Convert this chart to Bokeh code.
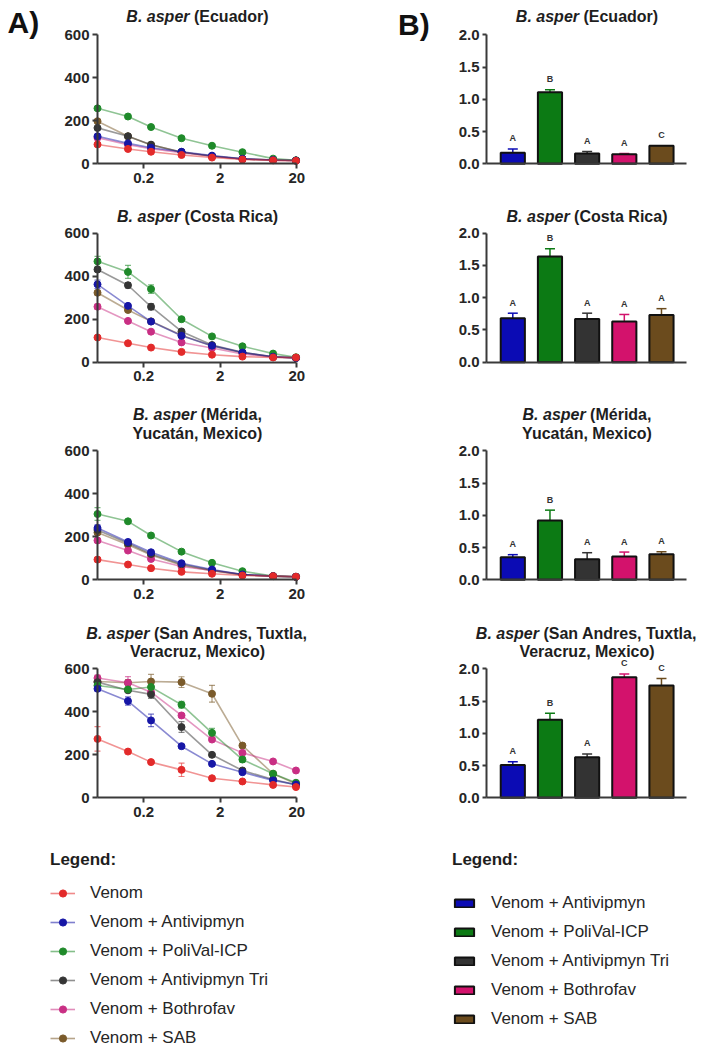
import math
from bokeh.plotting import figure
from bokeh.layouts import column, row
from bokeh.models import (Range1d, FixedTicker, Label, Whisker, TeeHead, ColumnDataSource,
                          Legend, LegendItem, CustomJSTickFormatter)
from bokeh.core.properties import value
from bokeh.embed import file_html
from bokeh.resources import INLINE

FONT = "Liberation Sans"
TXT = "#1e1e1e"
AX = "#3a3a3a"
NAN = float("nan")

# ---------------- data ----------------
doses = [0.05, 0.125, 0.25, 0.625, 1.5625, 3.9, 9.8, 19.5]
x_ticks = [0.2, 2, 20]
y_ticks_line = [0, 200, 400, 600]
y_ticks_bar = [0, 0.5, 1.0, 1.5, 2.0]
series_names = ["Venom", "Venom + Antivipmyn", "Venom + PoliVal-ICP",
                "Venom + Antivipmyn Tri", "Venom + Bothrofav", "Venom + SAB"]
line_colors = ["#e32a2a", "#1616a6", "#1f8a2a", "#353535", "#c92f84", "#7a5a2a"]

ecu_venom = [90, 69, 56, 41, 29, 20, 16, 14]
ecu_antivipmyn = [128, 95, 75, 56, 38, 23, 18, 15]
ecu_polival = [258, 220, 171, 119, 84, 54, 24, 16]
ecu_tri = [167, 128, 89, 54, 36, 23, 18, 16]
ecu_bothrofav = [121, 89, 70, 52, 35, 22, 17, 14]
ecu_sab = [198, 128, 88, 55, 35, 22, 18, 15]

cr_venom = [115, 88, 68, 48, 35, 26, 22, 22]
cr_antivipmyn = [362, 262, 189, 123, 77, 45, 25, 20]
cr_polival = [469, 420, 340, 200, 120, 74, 40, 23]
cr_tri = [431, 358, 258, 143, 80, 46, 25, 20]
cr_bothrofav = [258, 192, 142, 92, 66, 38, 24, 20]
cr_sab = [323, 243, 190, 125, 75, 44, 24, 20]
cr_err_venom = [8, 0, 0, 0, 0, 0, 0, 0]
cr_err_antivipmyn = [20, 8, 6, 0, 0, 0, 0, 0]
cr_err_polival = [23, 30, 20, 8, 0, 0, 0, 0]
cr_err_tri = [8, 12, 15, 8, 0, 0, 0, 0]
cr_err_bothrofav = [12, 6, 6, 0, 0, 0, 0, 0]
cr_err_sab = [10, 8, 0, 0, 0, 0, 0, 0]

mer_venom = [94, 71, 54, 37, 28, 20, 17, 14]
mer_antivipmyn = [241, 176, 128, 77, 48, 25, 17, 14]
mer_polival = [306, 272, 206, 131, 79, 40, 17, 14]
mer_tri = [232, 170, 120, 72, 45, 24, 17, 14]
mer_bothrofav = [183, 136, 97, 62, 43, 25, 17, 14]
mer_sab = [220, 163, 115, 68, 42, 23, 17, 14]
mer_err_venom = [10, 0, 0, 0, 0, 0, 0, 0]
mer_err_antivipmyn = [15, 10, 0, 0, 0, 0, 0, 0]
mer_err_polival = [30, 0, 0, 0, 0, 0, 0, 0]
mer_err_tri = [10, 0, 0, 0, 0, 0, 0, 0]
mer_err_bothrofav = [10, 0, 0, 0, 0, 0, 0, 0]
mer_err_sab = [10, 0, 0, 0, 0, 0, 0, 0]

sa_venom = [274, 215, 166, 130, 91, 76, 60, 50]
sa_antivipmyn = [507, 450, 360, 240, 158, 119, 81, 62]
sa_polival = [522, 504, 515, 433, 302, 178, 112, 70]
sa_tri = [538, 500, 481, 329, 200, 127, 85, 60]
sa_bothrofav = [557, 535, 491, 383, 271, 209, 169, 127]
sa_sab = [541, 535, 541, 538, 484, 243, 112, 65]
sa_err_venom = [57, 8, 6, 31, 6, 5, 5, 5]
sa_err_antivipmyn = [10, 19, 29, 8, 5, 5, 5, 4]
sa_err_polival = [10, 10, 15, 16, 21, 12, 8, 5]
sa_err_tri = [10, 10, 19, 25, 6, 5, 5, 5]
sa_err_bothrofav = [14, 29, 10, 8, 6, 6, 6, 5]
sa_err_sab = [12, 15, 33, 25, 39, 8, 5, 5]

bar_names = series_names[1:]
bar_colors = ["#0b0bb4", "#0c7a14", "#333333", "#d3126c", "#6b4b1d"]
bar_idx = [0, 1, 2, 3, 4]

ecu_bar = [0.17, 1.11, 0.16, 0.15, 0.28]
ecu_bar_err = [0.06, 0.04, 0.03, 0.01, 0.0]
ecu_letters = ["A", "B", "A", "A", "C"]
cr_bar = [0.68, 1.64, 0.67, 0.63, 0.73]
cr_bar_err = [0.08, 0.12, 0.09, 0.11, 0.10]
cr_letters = ["A", "B", "A", "A", "A"]
mer_bar = [0.35, 0.92, 0.32, 0.36, 0.395]
mer_bar_err = [0.04, 0.16, 0.10, 0.07, 0.04]
mer_letters = ["A", "B", "A", "A", "A"]
sa_bar = [0.51, 1.21, 0.63, 1.87, 1.74]
sa_bar_err = [0.05, 0.10, 0.05, 0.05, 0.11]
sa_letters = ["A", "B", "A", "C", "C"]

titles = [
    ["B. asper (Ecuador)"],
    ["B. asper (Costa Rica)"],
    ["B. asper (Mérida,", "Yucatán, Mexico)"],
    ["B. asper (San Andres, Tuxtla,", "Veracruz, Mexico)"],
]

regions = [
    dict(vals=[ecu_venom, ecu_antivipmyn, ecu_polival, ecu_tri, ecu_bothrofav, ecu_sab], errs=None,
         bar=ecu_bar, bar_err=ecu_bar_err, letters=ecu_letters),
    dict(vals=[cr_venom, cr_antivipmyn, cr_polival, cr_tri, cr_bothrofav, cr_sab],
         errs=[cr_err_venom, cr_err_antivipmyn, cr_err_polival, cr_err_tri, cr_err_bothrofav, cr_err_sab],
         bar=cr_bar, bar_err=cr_bar_err, letters=cr_letters),
    dict(vals=[mer_venom, mer_antivipmyn, mer_polival, mer_tri, mer_bothrofav, mer_sab],
         errs=[mer_err_venom, mer_err_antivipmyn, mer_err_polival, mer_err_tri, mer_err_bothrofav, mer_err_sab],
         bar=mer_bar, bar_err=mer_bar_err, letters=mer_letters),
    dict(vals=[sa_venom, sa_antivipmyn, sa_polival, sa_tri, sa_bothrofav, sa_sab],
         errs=[sa_err_venom, sa_err_antivipmyn, sa_err_polival, sa_err_tri, sa_err_bothrofav, sa_err_sab],
         bar=sa_bar, bar_err=sa_bar_err, letters=sa_letters),
]

# ---------------- page geometry (pixels) ----------------
LEFT_W, RIGHT_W = 351, 349
fig_spans = [(0, 190), (190, 395), (395, 612), (612, 830)]
zero_y = [163.3, 361.7, 579.3, 797.3]      # page y of value 0
LPX = 129.0 / 600.0                        # px per unit, line plots
BPX = 129.0 / 2.0                          # px per unit, bar plots
L_AX_X, L_DEC = 97.0, 76.6                 # page x of dose 0.05 ; px per decade
B_C0, B_STEP = 512.3 - LEFT_W, 37.17       # first bar centre (fig px) ; px per bar
B_AX = 135.0                               # bar y-axis, fig px
title_pos = [[16], [216], [414, 433], [632.5, 651]]
L_TCX, B_TCX = 197.0, 586.5 - LEFT_W
TFS = 16
TICK_FS = "15px"


def xlog(px):
    return doses[0] * 10 ** ((px - L_AX_X) / L_DEC)


def xbar(px):
    return (px - B_C0) / B_STEP


# Arial/Helvetica bold advance widths (per 1000 em)
W = {' ': 278, '(': 333, ')': 333, ',': 278, '.': 278, 'A': 722, 'B': 722, 'C': 722,
     'E': 667, 'M': 833, 'R': 722, 'S': 667, 'T': 611, 'V': 667, 'Y': 667, 'a': 556,
     'c': 556, 'd': 611, 'e': 556, 'i': 278, 'l': 278, 'n': 611, 'o': 611, 'p': 611,
     'r': 389, 's': 556, 't': 333, 'u': 611, 'x': 556, 'z': 500, 'á': 556, 'é': 556}


def tw(s, fs):
    return sum(W.get(ch, 556) for ch in s) * fs / 1000.0


def label(p, x, y, text, size, style, align="left", color=TXT):
    p.add_layout(Label(x=x, y=y, x_units="screen", y_units="screen", text=text,
                       text_font=FONT, text_font_style=style, text_font_size=f"{size}px",
                       text_align=align, text_baseline="middle", text_color=color))


def add_title(p, k, cx):
    lines = titles[k]
    fb = fig_spans[k][1]
    ys = [fb - t for t in title_pos[k]]
    first = lines[0]
    ital = "B. asper"
    rest = first[len(ital) + 1:]
    x0 = cx - tw(first, TFS) / 2.0
    label(p, x0, ys[0], ital, TFS, "bold italic")
    label(p, x0 + tw(ital + " ", TFS), ys[0], rest, TFS, "bold")
    for ln, y in zip(lines[1:], ys[1:]):
        label(p, cx, y, ln, TFS, "bold", align="center")


def style_axes(p):
    p.grid.visible = False
    p.outline_line_color = None
    p.axis.axis_line_color = AX
    p.axis.axis_line_width = 2
    p.axis.major_tick_line_color = AX
    p.axis.major_tick_line_width = 2
    p.axis.major_tick_in = 0
    p.axis.minor_tick_line_color = None
    p.axis.major_label_text_font = FONT
    p.axis.major_label_text_font_style = "bold"
    p.axis.major_label_text_font_size = TICK_FS
    p.axis.major_label_text_color = "#262626"


def line_fig(k):
    reg = regions[k]
    top, bot = fig_spans[k]
    p = figure(width=LEFT_W, height=bot - top, x_axis_type="log",
               x_range=Range1d(xlog(0), xlog(LEFT_W)),
               y_range=Range1d((zero_y[k] - bot) / LPX, (zero_y[k] - top) / LPX),
               output_backend="svg", toolbar_location=None, min_border=0)
    style_axes(p)
    p.yaxis.fixed_location = doses[0]
    p.yaxis.bounds = (0, 600)
    p.yaxis.ticker = FixedTicker(ticks=y_ticks_line)
    p.yaxis.major_tick_out = 5
    p.yaxis.major_label_standoff = 3
    p.xaxis.fixed_location = 0
    p.xaxis.bounds = (doses[0], 20)
    p.xaxis.ticker = FixedTicker(ticks=x_ticks)
    p.xaxis.formatter = CustomJSTickFormatter(code="return String(tick)")
    p.xaxis.major_tick_out = 5
    p.xaxis.major_label_standoff = 4
    for i in [5, 4, 3, 2, 1, 0]:
        c = line_colors[i]
        vals = reg["vals"][i]
        if reg["errs"] is not None:
            e = reg["errs"][i]
            xs = [d for d, ee in zip(doses, e) if ee > 0]
            lo = [v - ee for v, ee in zip(vals, e) if ee > 0]
            hi = [v + ee for v, ee in zip(vals, e) if ee > 0]
            if xs:
                src = ColumnDataSource(dict(x=xs, lo=lo, hi=hi))
                p.add_layout(Whisker(source=src, base="x", lower="lo", upper="hi",
                                     dimension="height", line_color=c, line_alpha=0.6, line_width=1.2,
                                     upper_head=TeeHead(size=6, line_color=c, line_alpha=0.6, line_width=1.2),
                                     lower_head=TeeHead(size=6, line_color=c, line_alpha=0.6, line_width=1.2)))
        p.line(doses, vals, line_color=c, line_alpha=0.5, line_width=1.6)
        p.scatter(doses, vals, size=7, fill_color=c, line_color=c)
    add_title(p, k, L_TCX)
    if k == 0:
        label(p, 7, bot - 22, "A)", 30, "bold", color="#111111")
    return p


def bar_fig(k):
    reg = regions[k]
    top, bot = fig_spans[k]
    p = figure(width=RIGHT_W, height=bot - top,
               x_range=Range1d(xbar(0), xbar(RIGHT_W)),
               y_range=Range1d((zero_y[k] - bot) / BPX, (zero_y[k] - top) / BPX),
               output_backend="svg", toolbar_location=None, min_border=0)
    style_axes(p)
    p.yaxis.fixed_location = xbar(B_AX)
    p.yaxis.bounds = (0, 2)
    p.yaxis.ticker = FixedTicker(ticks=y_ticks_bar)
    p.yaxis.formatter = CustomJSTickFormatter(code="return tick.toFixed(1)")
    p.yaxis.major_tick_out = 4
    p.yaxis.major_label_standoff = 3
    p.xaxis.fixed_location = 0
    p.xaxis.bounds = (xbar(B_AX), xbar(686 - LEFT_W))
    p.xaxis.ticker = FixedTicker(ticks=[])
    p.xaxis.major_tick_line_color = None
    vals = reg["bar"]
    errs = reg["bar_err"]
    xs = [i for i, e in zip(bar_idx, errs) if e > 0]
    lo = [v for v, e in zip(vals, errs) if e > 0]
    hi = [v + e for v, e in zip(vals, errs) if e > 0]
    cs = [c for c, e in zip(bar_colors, errs) if e > 0]
    src = ColumnDataSource(dict(x=xs, lo=lo, hi=hi, c=cs))
    p.add_layout(Whisker(source=src, base="x", lower="lo", upper="hi", dimension="height",
                         line_color="c", line_width=1.5, level="underlay",
                         upper_head=TeeHead(size=10, line_color="c", line_width=1.5),
                         lower_head=None))
    p.vbar(x=bar_idx, top=vals, width=0.65, fill_color=bar_colors, line_color="#111111", line_width=2)
    tops = [v + e for v, e in zip(vals, errs)]
    p.text(x=bar_idx, y=tops, text=reg["letters"], text_font=value(FONT), text_font_style="bold",
           text_font_size="9px", text_align="center", text_baseline="middle", y_offset=-10.5,
           text_color="#333333")
    add_title(p, k, B_TCX)
    if k == 0:
        label(p, 397.5 - LEFT_W, bot - 24, "B)", 30, "bold", color="#111111")
    return p


rows = [row(line_fig(k), bar_fig(k)) for k in range(4)]

# ---------------- legends ----------------
LEG_H = 219
lf = figure(width=LEFT_W + RIGHT_W, height=LEG_H, x_range=Range1d(0, 1), y_range=Range1d(0, 1),
            output_backend="svg", toolbar_location=None, min_border=0,
            x_axis_location=None, y_axis_location=None)
lf.grid.visible = False
lf.outline_line_color = None

left_items = []
for name, c in zip(series_names, line_colors):
    lr = lf.line(x=[NAN], y=[NAN], line_color=c, line_alpha=0.55, line_width=1.6)
    sr = lf.scatter(x=[NAN], y=[NAN], size=7, fill_color=c, line_color=c)
    left_items.append(LegendItem(label=name, renderers=[lr, sr]))

right_items = []
for name, c in zip(bar_names, bar_colors):
    br = lf.vbar(x=[NAN], top=[NAN], width=0.5, fill_color=c, line_color="#111111", line_width=2)
    right_items.append(LegendItem(label=name, renderers=[br]))

common = dict(title="Legend:", title_text_font=FONT, title_text_font_style="bold",
              title_text_font_size="17px", title_text_color=TXT,
              label_text_font=FONT, label_text_font_size="17px", label_text_color="#262626",
              label_height=20, spacing=9, padding=0, margin=0,
              border_line_color=None, background_fill_alpha=0, inactive_fill_alpha=0)

leg_left = Legend(items=left_items, location=(50, 1), glyph_width=25, glyph_height=18,
                  label_standoff=15, title_standoff=13, **common)
leg_right = Legend(items=right_items, location=(452, 20), glyph_width=24, glyph_height=10,
                   label_standoff=15, title_standoff=23, **common)
lf.add_layout(leg_left)
lf.add_layout(leg_right)

layout = column(*rows, lf)
open("out.html", "w").write(file_html(layout, INLINE))
